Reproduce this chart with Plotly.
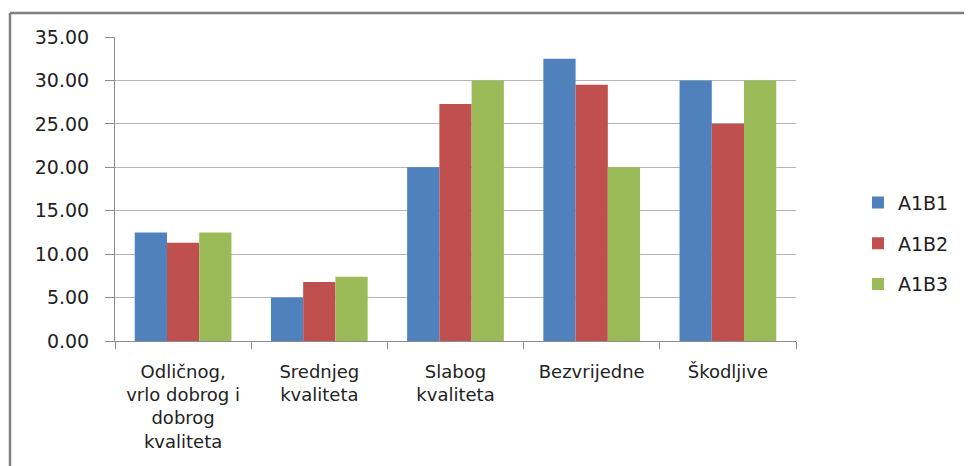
import plotly.graph_objects as go

categories = ["Odličnog,<br>vrlo dobrog i<br>dobrog<br>kvaliteta", "Srednjeg<br>kvaliteta",
              "Slabog<br>kvaliteta", "Bezvrijedne", "Škodljive"]
series_names = ["A1B1", "A1B2", "A1B3"]
a1b1 = [12.5, 5.0, 20.0, 32.5, 30.0]
a1b2 = [11.3, 6.8, 27.3, 29.5, 25.0]
a1b3 = [12.5, 7.4, 30.0, 20.0, 30.0]
colors = ["#4F81BD", "#C0504D", "#9BBB59"]
y_ticks = [0, 5, 10, 15, 20, 25, 30, 35]

fig = go.Figure()
for name, vals, c in zip(series_names, [a1b1, a1b2, a1b3], colors):
    fig.add_trace(go.Bar(x=categories, y=vals, name=name, legendgroup=name,
                         marker=dict(color=c, line=dict(width=0))))

font = "DejaVu Sans"
W, H = 964, 458
L, T, PW, PH = 107, 29, 681, 304
fig.update_layout(
    width=W, height=H,
    margin=dict(l=L, r=W - L - PW, t=T, b=H - T - PH),
    barmode="group", bargap=0.29, bargroupgap=0,
    plot_bgcolor="white", paper_bgcolor="white",
    font=dict(family=font, size=18, color="#222222"),
    legend=dict(x=1.091, xanchor="left", y=0.32, yanchor="middle",
                font=dict(size=19, color="#222222"), tracegroupgap=13,
                itemwidth=30),
    xaxis=dict(type="category", showline=True, linecolor="#8c8c8c", linewidth=1,
               ticks="outside", tickson="boundaries", ticklen=7, tickcolor="#8c8c8c",
               ticklabelstandoff=14,
               tickfont=dict(size=18, family=font, color="#222222"), showgrid=False),
    yaxis=dict(range=[0, 35], tickvals=y_ticks, tickformat=".2f",
               showline=True, linecolor="#8c8c8c", linewidth=1,
               ticks="outside", ticklen=9, tickcolor="#8c8c8c",
               ticklabelstandoff=12,
               gridcolor="#b4b4b4", gridwidth=1, zeroline=False,
               tickfont=dict(size=19, family=font, color="#222222")),
    shapes=[
        dict(type="line", xref="paper", yref="paper",
             x0=(2 - L) / PW, x1=2.0, y0=(T + PH - 5) / PH, y1=(T + PH - 5) / PH,
             line=dict(color="#808080", width=2.5)),
        dict(type="line", xref="paper", yref="paper",
             x0=(2 - L) / PW, x1=(2 - L) / PW, y0=(T + PH - 5) / PH, y1=-1.0,
             line=dict(color="#808080", width=2.5)),
    ],
)
fig.write_html("out.html")
